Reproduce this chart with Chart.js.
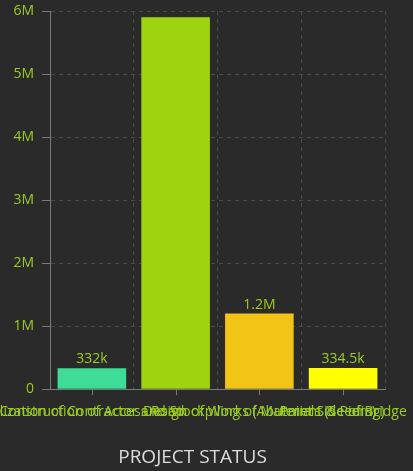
<!DOCTYPE html>
<html>
<head>
<meta charset="utf-8">
<script src="https://cdn.jsdelivr.net/npm/chart.js@4.4.1/dist/chart.umd.min.js"></script>
<style>
  html, body { margin: 0; padding: 0; background: #2a2a2a; }
  #wrap { width: 413px; height: 471px; }
</style>
</head>
<body>
<div id="wrap"><canvas id="statusChart" width="413" height="471"></canvas></div>
<script>
const categories = [
    'Construction of Access Road',
    'Mobilization of Contractor and Stockpiling of Materials (Seeding)',
    'Design of Works (Abutment & Piers)',
    'Paint Side of Bridge'
];
const amounts = [332000, 5900000, 1200000, 334500];
const barColors = ['#3ddc97', '#9fd20f', '#f2c416', '#ffff00'];
const yTicks = [0, 1000000, 2000000, 3000000, 4000000, 5000000, 6000000];

const GREEN = '#9acd20';
const GRID = '#4a4a4a';
const AXIS = '#7a7a7a';
const FONT = '"Open Sans", sans-serif';

function shortNum(v) {
    if (v >= 1000000) return (+(v / 1000000).toFixed(1)) + 'M';
    if (v >= 1000) return (+(v / 1000).toFixed(1)) + 'k';
    return String(v);
}

// value labels above bars, dropped when they would poke out of the plot
const valueLabels = {
    id: 'valueLabels',
    afterDatasetsDraw(chart) {
        const { ctx, chartArea } = chart;
        const meta = chart.getDatasetMeta(0);
        ctx.save();
        ctx.font = '14px ' + FONT;
        ctx.fillStyle = GREEN;
        ctx.textAlign = 'center';
        ctx.textBaseline = 'alphabetic';
        meta.data.forEach((bar, i) => {
            const y = bar.y - 5;
            if (y - 12 < chartArea.top) return;
            ctx.fillText(shortNum(amounts[i]), bar.x, y);
        });
        ctx.restore();
    }
};

// small tick marks under the category centres
const centreTicks = {
    id: 'centreTicks',
    afterDraw(chart) {
        const { ctx, scales: { x } } = chart;
        ctx.save();
        ctx.strokeStyle = AXIS;
        ctx.lineWidth = 1;
        categories.forEach((c, i) => {
            const px = Math.round(x.getPixelForValue(i)) + 0.5;
            ctx.beginPath();
            ctx.moveTo(px, x.top);
            ctx.lineTo(px, x.top + 6);
            ctx.stroke();
        });
        ctx.restore();
    }
};

new Chart(document.getElementById('statusChart'), {
    type: 'bar',
    data: {
        labels: categories,
        datasets: [{
            data: amounts,
            backgroundColor: barColors,
            borderWidth: 0,
            categoryPercentage: 0.9,
            barPercentage: 0.91
        }]
    },
    options: {
        responsive: false,
        animation: false,
        layout: { padding: { top: 0, right: 28, left: 0, bottom: 2 } },
        plugins: {
            legend: { display: false },
            tooltip: { enabled: false },
            title: {
                display: true,
                position: 'bottom',
                text: 'PROJECT STATUS',
                color: '#dddddd',
                font: { family: FONT, size: 19, weight: 'normal' },
                padding: { top: 10, bottom: 0 }
            }
        },
        scales: {
            x: {
                afterFit: s => {
                    s.height = 47;
                    s.paddingLeft = 0;
                    s.paddingRight = 0;
                },
                grid: {
                    offset: true,
                    color: GRID,
                    drawTicks: false
                },
                border: { color: AXIS, dash: [4, 4] },
                ticks: {
                    color: GREEN,
                    autoSkip: false,
                    maxRotation: 0,
                    minRotation: 0,
                    padding: 14,
                    font: { family: FONT, size: 14 }
                }
            },
            y: {
                min: 0,
                max: 6000000,
                afterFit: s => {
                    s.width = 50;
                    s.paddingTop = 11;
                },
                afterBuildTicks: s => { s.ticks = yTicks.map(v => ({ value: v })); },
                grid: {
                    color: GRID,
                    tickColor: AXIS,
                    tickLength: 8,
                    tickBorderDash: []
                },
                border: { color: AXIS, dash: [4, 4] },
                ticks: {
                    color: GREEN,
                    padding: 8,
                    font: { family: FONT, size: 14 },
                    callback: v => shortNum(v)
                }
            }
        }
    },
    plugins: [valueLabels, centreTicks]
});
</script>
</body>
</html>
